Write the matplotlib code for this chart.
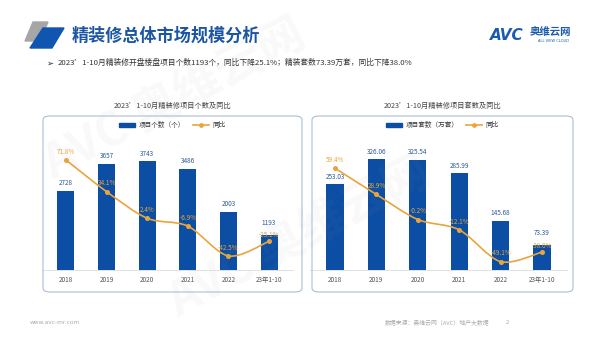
import matplotlib
matplotlib.use("Agg")
import matplotlib.pyplot as plt
import numpy as np
from matplotlib.patches import FancyBboxPatch, Polygon, PathPatch, Patch
from matplotlib.lines import Line2D
from matplotlib.path import Path

plt.rcParams["font.family"] = ["Noto Sans CJK SC", "DejaVu Sans"]

years = ["2018", "2019", "2020", "2021", "2022", "23年1-10"]
proj_count = [2728, 3657, 3743, 3486, 2003, 1193]
count_yoy = [71.8, 34.1, 2.4, -6.9, -42.5, -25.1]
proj_units = [253.03, 326.06, 325.54, 285.99, 145.68, 73.39]
units_yoy = [59.4, 28.9, -0.2, -12.1, -49.1, -38.0]

BLUE = "#0c4ea3"
ORANGE = "#e9a53b"
TITLE_BLUE = "#1b55a3"
W, H = 600, 348

fig = plt.figure(figsize=(6, 3.48), dpi=100)
fig.patch.set_facecolor("white")


def fx(px):
    return px / W


def fy(py):
    return 1 - py / H


def smooth_line(ax, xs, ys, color, lw=1.2, k=0.3):
    # catmull-rom style bezier through the points, computed in screen space
    pts = ax.transData.transform(np.column_stack([xs, ys]))
    n = len(pts)
    verts = [pts[0]]
    codes = [Path.MOVETO]
    for i in range(n - 1):
        p0 = pts[i - 1] if i > 0 else pts[i]
        p1, p2 = pts[i], pts[i + 1]
        p3 = pts[i + 2] if i + 2 < n else pts[i + 1]
        c1 = p1 + (p2 - p0) * k / 2
        c2 = p2 - (p3 - p1) * k / 2
        verts += [c1, c2, p2]
        codes += [Path.CURVE4] * 3
    verts = ax.transData.inverted().transform(np.array(verts))
    ax.add_patch(PathPatch(Path(verts, codes), fill=False, edgecolor=color,
                           lw=lw, transform=ax.transData, zorder=4))


def panel(x0, x1, ax_rect, title, legend_lbl, bars, yoy, bar_max, yoy_lim, fmt):
    cx = (x0 + x1) / 2
    fig.text(fx(cx), fy(106), title, ha="center", va="center", fontsize=5.2, color="#444444")
    box = FancyBboxPatch((fx(x0), fy(292)), fx(x1 - x0), (292 - 116) / H,
                         boxstyle="round,pad=0,rounding_size=0.012",
                         transform=fig.transFigure, fill=False,
                         edgecolor="#a9bfd3", lw=0.8)
    fig.patches.append(box)

    ax = fig.add_axes(ax_rect)
    x = np.arange(len(years))
    ax.bar(x, bars, width=0.42, color=BLUE, zorder=2)
    ax.set_xlim(-0.6, 5.6)
    ax.set_ylim(0, bar_max)
    last = len(x) - 1
    for xi, v in zip(x, bars):
        dy = 6 if xi == last else 2.5
        ax.annotate(fmt(v), (xi, v), xytext=(0, dy), textcoords="offset points",
                    ha="center", va="bottom", fontsize=4.6, color="#2b5a96")
    ax.set_xticks(x)
    ax.set_xticklabels(years, fontsize=4.6, color="#555555")
    ax.tick_params(axis="x", length=0, pad=4)
    ax.set_yticks([])
    for s in ["top", "right", "left"]:
        ax.spines[s].set_visible(False)
    ax.spines["bottom"].set_color("#dddddd")
    ax.spines["bottom"].set_linewidth(0.6)
    ax.patch.set_alpha(0)

    ax2 = ax.twinx()
    ax2.set_ylim(*yoy_lim)
    ax2.set_xlim(-0.6, 5.6)
    ax2.axis("off")
    smooth_line(ax2, x, yoy, ORANGE)
    ax2.plot(x, yoy, "o", color=ORANGE, ms=2.6, zorder=5)
    for xi, v in zip(x, yoy):
        dy = 1.5 if xi == last else 3
        ax2.annotate(f"{v:.1f}%", (xi, v), xytext=(0, dy), textcoords="offset points",
                     ha="center", va="bottom", fontsize=4.6, color=ORANGE, zorder=6)

    handles = [Patch(color=BLUE),
               Line2D([], [], color=ORANGE, lw=1.2, marker="o", ms=2.4)]
    fig.legend(handles, [legend_lbl, "同比"], loc="center",
               bbox_to_anchor=(fx(cx), fy(125)), ncol=2, frameon=False,
               fontsize=4.8, handlelength=2.4, handleheight=0.5,
               columnspacing=1.2, handletextpad=0.5, labelcolor="#333333")


bottom = fy(270)
height = 130 / H
panel(43, 302, [fx(41.6), bottom, fx(251.8), height],
      "2023’1-10月精装修项目个数及同比", "项目个数（个）",
      proj_count, count_yoy, 4483, (-59.2, 95.6), lambda v: f"{v:d}")
panel(312, 573, [fx(310.2), bottom, fx(256.6), height],
      "2023’1-10月精装修项目套数及同比", "项目套数（万套）",
      proj_units, units_yoy, 383.5, (-58.8, 92.2), lambda v: f"{v:.2f}")

# header icon
gray = Polygon([[fx(33), fy(22)], [fx(48), fy(22)], [fx(40), fy(41)], [fx(25), fy(41)]],
               closed=True, transform=fig.transFigure, color="#a6a6a6")
blue = Polygon([[fx(43), fy(28)], [fx(64), fy(28)], [fx(52), fy(48)], [fx(30), fy(48)]],
               closed=True, transform=fig.transFigure, color="#1055b0")
fig.patches.extend([gray, blue])

fig.text(fx(72), fy(36), "精装修总体市场规模分析", fontsize=12.3, fontweight="bold",
         color=TITLE_BLUE, va="center", ha="left")
fig.text(fx(46), fy(63), "➢", fontsize=6, color="#222222", va="center",
         family=["DejaVu Sans"])
fig.text(fx(58), fy(63),
         "2023’1-10月精装修开盘楼盘项目个数1193个，同比下降25.1%；精装套数73.39万套，同比下降38.0%",
         fontsize=5.6, color="#333333", va="center", ha="left")

# brand mark
fig.text(fx(490), fy(35), "AVC", fontsize=11, fontweight="bold", style="italic",
         color="#1a5bb0", va="center", ha="left", family=["DejaVu Sans"])
fig.text(fx(530), fy(32), "奥维云网", fontsize=7.5, fontweight="bold",
         color="#1a5bb0", va="center", ha="left")
fig.text(fx(554), fy(41.5), "ALL VIEW CLOUD", fontsize=2.6, color="#1a5bb0",
         va="center", ha="center", family=["DejaVu Sans"])

# footer
fig.text(fx(30), fy(323), "www.avc-mr.com", fontsize=4.2, color="#aaaaaa",
         va="center", ha="left", family=["DejaVu Sans"])
fig.text(fx(489), fy(323), "数据来源：奥维云网（AVC）地产大数据", fontsize=4.2,
         color="#aaaaaa", va="center", ha="right")
fig.text(fx(507), fy(323), "2", fontsize=4.2, color="#aaaaaa", va="center", ha="center")

# faint watermarks
for (px, py) in [(175, 100), (300, 238)]:
    fig.text(fx(px), fy(py), "AVC 奥维云网", fontsize=34, fontweight="bold",
             color="#9a9a9a", alpha=0.06, rotation=28, ha="center", va="center",
             zorder=10)

fig.savefig("out.png", dpi=100)
